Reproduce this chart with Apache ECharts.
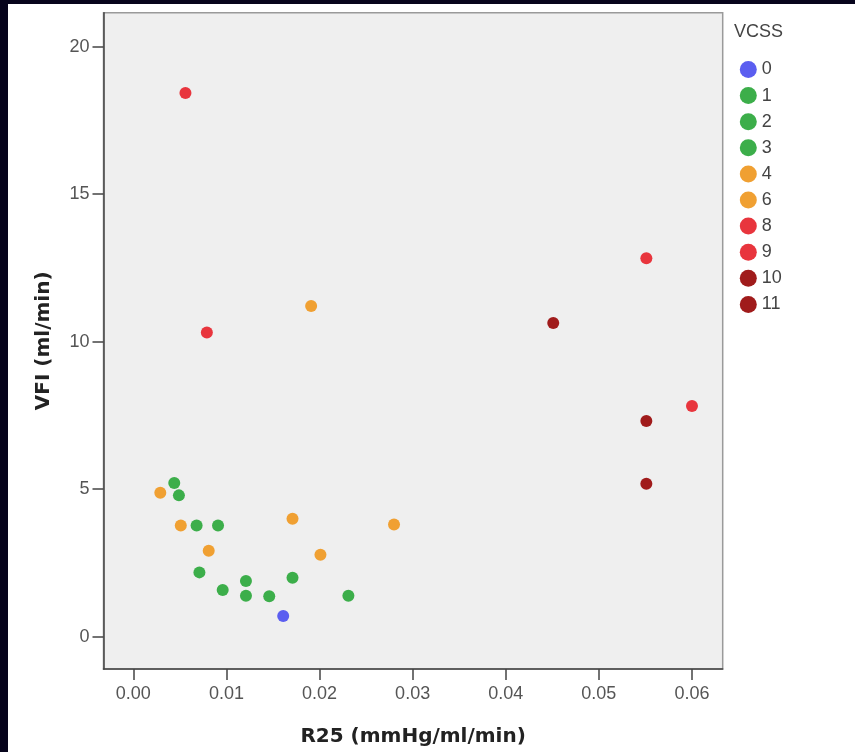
<!DOCTYPE html>
<html>
<head>
<meta charset="utf-8">
<script src="https://cdn.jsdelivr.net/npm/echarts@6/dist/echarts.min.js"></script>
<style>
  html, body { margin: 0; padding: 0; background: #07041c; }
  #paper { position: absolute; left: 8px; top: 4px; width: 847px; height: 748px; background: #ffffff; }
  #chart { position: absolute; left: 0; top: 0; width: 855px; height: 752px; }
</style>
</head>
<body>
<div id="paper"></div>
<div id="chart"></div>
<script>
// ---- data ----
const vcssLevels = ['0', '1', '2', '3', '4', '6', '8', '9', '10', '11'];

const r25_v0  = [0.0161];
const vfi_v0  = [0.70];

const r25_v1  = [0.0044, 0.0068, 0.0121, 0.0231];
const vfi_v1  = [5.21, 3.77, 1.39, 1.39];

const r25_v2  = [0.0049, 0.0071, 0.0146, 0.0171];
const vfi_v2  = [4.79, 2.18, 1.37, 2.00];

const r25_v3  = [0.0091, 0.0096, 0.0121];
const vfi_v3  = [3.77, 1.58, 1.89];

const r25_v4  = [0.0029, 0.0051, 0.0081, 0.0171];
const vfi_v4  = [4.88, 3.77, 2.91, 4.00];

const r25_v6  = [0.0191, 0.0201, 0.0280];
const vfi_v6  = [11.21, 2.78, 3.80];

const r25_v8  = [0.0056, 0.0079, 0.0600];
const vfi_v8  = [18.43, 10.31, 7.82];

const r25_v9  = [0.0551];
const vfi_v9  = [12.83];

const r25_v10 = [0.0451, 0.0551];
const vfi_v10 = [10.63, 5.18];

const r25_v11 = [0.0551];
const vfi_v11 = [7.31];

const xTicks = [0, 0.01, 0.02, 0.03, 0.04, 0.05, 0.06];
const yTicks = [0, 5, 10, 15, 20];

const xTitle = 'R25 (mmHg/ml/min)';
const yTitle = 'VFI (ml/min)';
const legendTitle = 'VCSS';

// ---- styling ----
const levelColors = ['#5b5ef0', '#3cae4a', '#3cae4a', '#3cae4a', '#f0a032', '#f0a032',
                     '#e8353d', '#e8353d', '#a01b1b', '#a01b1b'];

const seriesX = [r25_v0, r25_v1, r25_v2, r25_v3, r25_v4, r25_v6, r25_v8, r25_v9, r25_v10, r25_v11];
const seriesY = [vfi_v0, vfi_v1, vfi_v2, vfi_v3, vfi_v4, vfi_v6, vfi_v8, vfi_v9, vfi_v10, vfi_v11];

const series = vcssLevels.map((lvl, i) => ({
  name: lvl,
  type: 'scatter',
  symbol: 'circle',
  symbolSize: 12,
  itemStyle: { color: levelColors[i], opacity: 1 },
  emphasis: { disabled: true },
  data: seriesX[i].map((x, j) => [x, seriesY[i][j]])
}));

const chart = echarts.init(document.getElementById('chart'), null, { renderer: 'canvas' });
chart.setOption({
  animation: false,
  backgroundColor: 'transparent',
  textStyle: { fontFamily: 'Liberation Sans' },
  grid: {
    left: 103.5, top: 12.7, right: 132.3, bottom: 81.3,
    show: true, backgroundColor: '#efefef', borderColor: '#9a9a9a', borderWidth: 1.5,
    containLabel: false
  },
  graphic: [{
    type: 'text', left: 734, top: 23,
    style: { text: legendTitle, fontSize: 18, fontFamily: 'Liberation Sans', fill: '#444' }
  }],
  legend: {
    orient: 'vertical',
    left: 739.8, top: 60.5,
    padding: 0,
    itemWidth: 17, itemHeight: 17, itemGap: 8.1,
    icon: 'circle',
    selectedMode: false,
    textStyle: { fontSize: 18, color: '#444', lineHeight: 17, fontFamily: 'Liberation Sans' },
    data: vcssLevels
  },
  xAxis: {
    type: 'value',
    min: -0.0032, max: 0.0633,
    name: xTitle,
    nameLocation: 'middle',
    nameGap: 58,
    nameTextStyle: { fontSize: 20, fontWeight: 'bold', fontFamily: 'DejaVu Sans', color: '#222' },
    axisLine: { show: true, onZero: false, lineStyle: { color: '#444', width: 1.5 } },
    axisTick: { show: true, length: 11, customValues: xTicks, lineStyle: { color: '#444', width: 1.5 } },
    axisLabel: {
      customValues: xTicks, margin: 16, fontSize: 18, color: '#555',
      formatter: v => v.toFixed(2)
    },
    splitLine: { show: false }
  },
  yAxis: {
    type: 'value',
    min: -1.095, max: 21.15,
    name: yTitle,
    nameLocation: 'middle',
    nameGap: 50,
    nameTextStyle: { fontSize: 20, fontWeight: 'bold', fontFamily: 'DejaVu Sans', color: '#222' },
    axisLine: { show: true, onZero: false, lineStyle: { color: '#444', width: 1.5 } },
    axisTick: { show: true, length: 11, customValues: yTicks, lineStyle: { color: '#444', width: 1.5 } },
    axisLabel: {
      customValues: yTicks, margin: 14, fontSize: 18, color: '#555',
      formatter: v => String(v)
    },
    splitLine: { show: false }
  },
  series: series
});
</script>
</body>
</html>
